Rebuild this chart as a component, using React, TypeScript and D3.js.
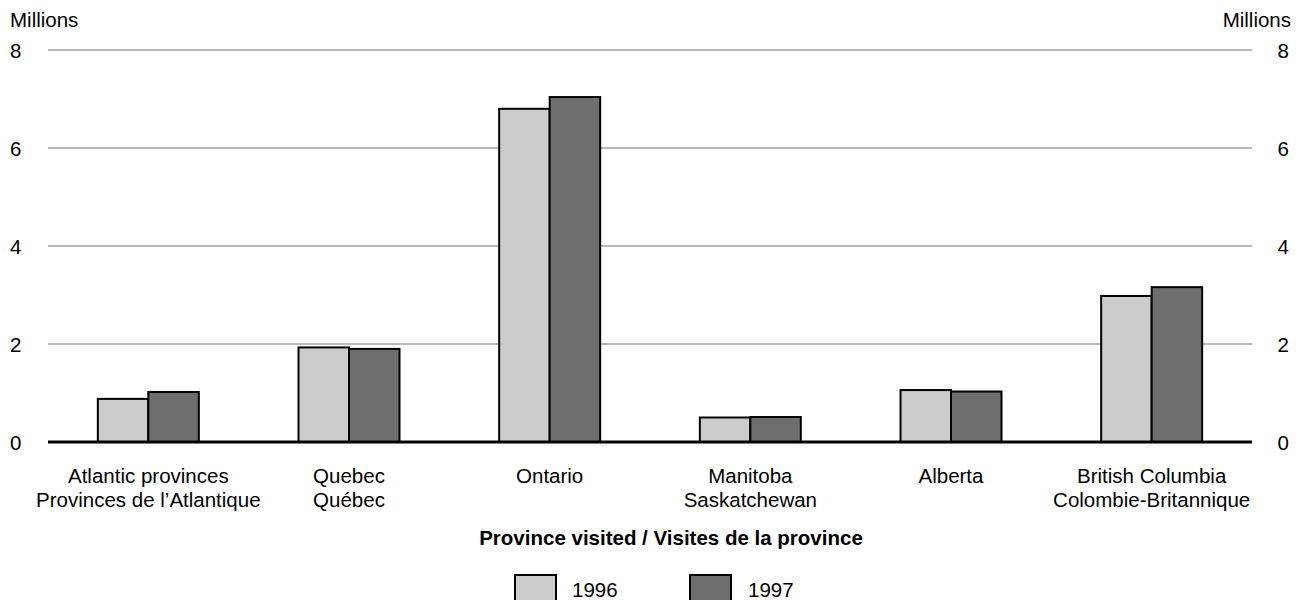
import React from "react";
import * as d3 from "d3";

const categoriesEn = ["Atlantic provinces", "Quebec", "Ontario", "Manitoba", "Alberta", "British Columbia"];
const categoriesFr = ["Provinces de l\u2019Atlantique", "Québec", "", "Saskatchewan", "", "Colombie-Britannique"];
const series = ["1996", "1997"];
const values1996 = [0.88, 1.93, 6.8, 0.5, 1.06, 2.98];
const values1997 = [1.02, 1.9, 7.04, 0.51, 1.03, 3.16];
const yTicks = [0, 2, 4, 6, 8];
const colors = ["#cccccc", "#6e6e6e"];

export default function App() {
  const W = 1296, H = 600;
  const left = 48, right = 1252, top = 50, bottom = 442;
  const x0 = d3.scaleBand<number>().domain(d3.range(categoriesEn.length)).range([left, right]).paddingInner(0).paddingOuter(0);
  const groupW = 101;
  const x1 = d3.scaleBand<string>().domain(series).range([0, groupW]);
  const y = d3.scaleLinear().domain([0, 8]).range([bottom, top]);
  const font = "'Liberation Sans', Arial, sans-serif";
  const fs = 20.5;
  const data = [values1996, values1997];
  return (
    <svg width={W} height={H} style={{ position: "absolute", left: 0, top: 0 }} fontFamily={font}>
      <text x={10} y={27} fontSize={fs} fill="#000">Millions</text>
      <text x={1291} y={27} fontSize={fs} fill="#000" textAnchor="end">Millions</text>
      {yTicks.map((t) => (
        <g key={t}>
          {t !== 0 && <line x1={left} x2={right} y1={y(t)} y2={y(t)} stroke="#777" strokeWidth={1.2} />}
          <text x={10} y={y(t) + 8} fontSize={fs}>{t}</text>
          <text x={1289} y={y(t) + 8} fontSize={fs} textAnchor="end">{t}</text>
        </g>
      ))}
      {categoriesEn.map((c, i) => {
        const cx = x0(i)! + x0.bandwidth() / 2;
        return (
          <g key={c}>
            {series.map((s, j) => {
              const v = data[j][i];
              const bx = cx - groupW / 2 + x1(s)!;
              return (
                <rect key={s} x={bx} y={y(v)} width={x1.bandwidth()} height={bottom - y(v)}
                  fill={colors[j]} stroke="#000" strokeWidth={2} />
              );
            })}
            <text x={cx} y={483} fontSize={fs} textAnchor="middle">{c}</text>
            {categoriesFr[i] && <text x={cx} y={507} fontSize={fs} textAnchor="middle">{categoriesFr[i]}</text>}
          </g>
        );
      })}
      <line x1={left} x2={right} y1={bottom} y2={bottom} stroke="#000" strokeWidth={3} />
      <text x={671} y={545} fontSize={fs} fontWeight="bold" textAnchor="middle">Province visited / Visites de la province</text>
      {series.map((s, j) => (
        <g key={s}>
          <rect x={515 + j * 175} y={575} width={41} height={35} fill={colors[j]} stroke="#000" strokeWidth={2} />
          <text x={572 + j * 176} y={597} fontSize={fs}>{s}</text>
        </g>
      ))}
    </svg>
  );
}
